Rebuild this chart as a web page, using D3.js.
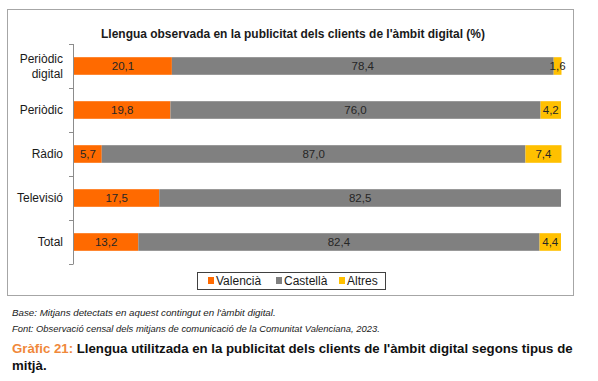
<!DOCTYPE html>
<html><head><meta charset="utf-8">
<script src="https://cdn.jsdelivr.net/npm/d3@7"></script>
<style>body{margin:0;background:#fff}svg{display:block}text{font-family:"Liberation Sans",Arial,sans-serif}</style>
</head><body>
<script>
const categories = ["Periòdic\ndigital","Periòdic","Ràdio","Televisió","Total"];
const seriesNames = ["Valencià","Castellà","Altres"];
const valencia = [20.1,19.8,5.7,17.5,13.2];
const castella = [78.4,76.0,87.0,82.5,82.4];
const altres = [1.6,4.2,7.4,0,4.4];
const colors = ["#FF6A00","#808080","#FFC000"];
const chartTitle = "Llengua observada en la publicitat dels clients de l'àmbit digital (%)";
const baseNote = "Base: Mitjans detectats en aquest contingut en l'àmbit digital.";
const sourceNote = "Font: Observació censal dels mitjans de comunicació de la Comunitat Valenciana, 2023.";
const figLabel = "Gràfic 21:";
const figTitle1 = " Llengua utilitzada en la publicitat dels clients de l'àmbit digital segons tipus de";
const figTitle2 = "mitjà.";

const W=598,H=381;
const svg=d3.select("body").append("svg").attr("width",W).attr("height",H);
svg.append("rect").attr("x",7.5).attr("y",9.5).attr("width",566).attr("height",286).attr("fill","#fff").attr("stroke","#a6a6a6");

function fit(sel,target){const w=sel.node().getComputedTextLength();const fs=parseFloat(sel.attr("font-size"));sel.attr("font-size",fs*target/w);}

const tt=svg.append("text").attr("x",293).attr("y",38).attr("text-anchor","middle").attr("font-size",11).attr("font-weight","bold").attr("fill","#1a1a1a").text(chartTitle);
fit(tt,384);

const x=d3.scaleLinear().domain([0,100]).range([74,561]);
const y=d3.scaleBand().domain(categories).range([44,264]).paddingInner(0.6).paddingOuter(0.3);

const data=categories.map((c,i)=>({cat:c,vals:[valencia[i],castella[i],altres[i]]}));
const stack=d3.stack().keys([0,1,2]).value((d,k)=>d.vals[k]);
const series=stack(data);

series.forEach((s,k)=>{
  svg.append("g").selectAll("rect").data(s).join("rect")
   .attr("x",d=>x(d[0])).attr("y",d=>y(d.data.cat)).attr("width",d=>x(d[1])-x(d[0])).attr("height",y.bandwidth())
   .attr("fill",colors[k]);
  svg.append("g").selectAll("text").data(s.filter(d=>d[1]-d[0]>0)).join("text")
   .attr("x",d=>(x(d[0])+x(d[1]))/2).attr("y",d=>y(d.data.cat)+y.bandwidth()/2+4)
   .attr("text-anchor","middle").attr("font-size",11.5).attr("fill","#262626")
   .text(d=>d3.format(".1f")(d[1]-d[0]).replace(".",","));
});

// axis
const ax=svg.append("g");
ax.append("line").attr("x1",73.5).attr("x2",73.5).attr("y1",44).attr("y2",264).attr("stroke","#8c8c8c");
const bnds=d3.range(categories.length+1).map(i=>44+i*y.step());
ax.selectAll("line.t").data(bnds).join("line").attr("class","t").attr("x1",69).attr("x2",73.5).attr("y1",d=>Math.round(d)+0.5).attr("y2",d=>Math.round(d)+0.5).attr("stroke","#8c8c8c");
categories.forEach(c=>{
  const lines=c.split("\n");
  const cy=y(c)+y.bandwidth()/2;
  const t=svg.append("text").attr("text-anchor","end").attr("font-size",12).attr("fill","#1a1a1a");
  lines.forEach((l,i)=>t.append("tspan").attr("x",63).attr("y",cy+4+(i-(lines.length-1)/2)*15).text(l));
});

// legend
const lg=svg.append("g");
lg.append("rect").attr("x",197.5).attr("y",272.5).attr("width",188).attr("height",17).attr("fill","#fff").attr("stroke","#404040");
const lx=[208,276,339];
seriesNames.forEach((n,i)=>{
  lg.append("rect").attr("x",lx[i]).attr("y",277).attr("width",6).attr("height",7).attr("fill",colors[i]);
  lg.append("text").attr("x",lx[i]+8).attr("y",285).attr("font-size",12).attr("fill","#1a1a1a").text(n);
});

// notes
const b=svg.append("text").attr("x",12).attr("y",316).attr("font-size",9).attr("font-style","italic").attr("fill","#1a1a1a").text(baseNote);
fit(b,264);
const f=svg.append("text").attr("x",12).attr("y",332).attr("font-size",9).attr("font-style","italic").attr("fill","#1a1a1a").text(sourceNote);
fit(f,368);
const ft=svg.append("text").attr("x",12).attr("y",353).attr("font-size",13).attr("font-weight","bold");
ft.append("tspan").attr("fill","#F0883A").text(figLabel);
ft.append("tspan").attr("fill","#111").text(figTitle1);
fit(ft,561);
svg.append("text").attr("x",12).attr("y",370).attr("font-size",ft.attr("font-size")).attr("font-weight","bold").attr("fill","#111").text(figTitle2);
</script>
</body></html>
